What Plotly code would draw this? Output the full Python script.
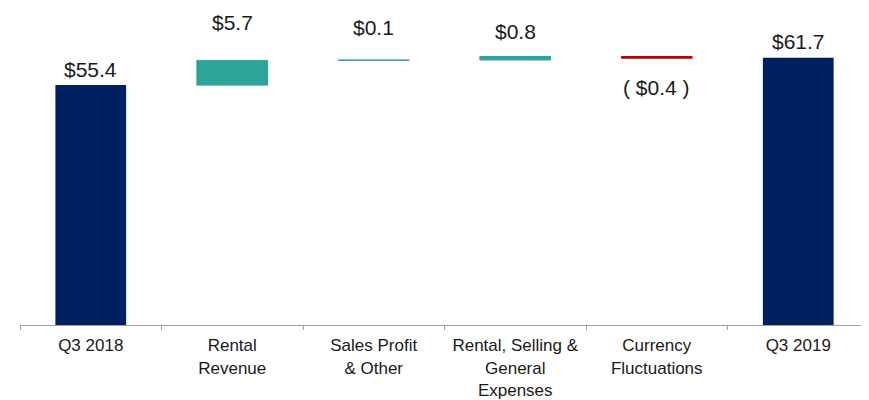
import plotly.graph_objects as go

categories = ["Q3 2018", "Rental<br>Revenue", "Sales Profit<br>& Other",
              "Rental, Selling &<br>General<br>Expenses", "Currency<br>Fluctuations", "Q3 2019"]
values = [55.4, 5.7, 0.1, 0.8, -0.4, 61.7]
kinds = ["total", "delta", "delta", "delta", "delta", "total"]
value_labels = ["$55.4", "$5.7", "$0.1", "$0.8", "( $0.4 )", "$61.7"]

# styling (pixel offsets of value labels from bar edge)
label_shift_px = [16, 38, 32, 25, -29, 16]
NAVY = "#002060"
TEAL = "#2CA497"
RED = "#C00000"

bases, heights, colors, lw = [], [], [], []
running = 0.0
for v, k in zip(values, kinds):
    if k == "total":
        bases.append(0)
        heights.append(v)
        colors.append(NAVY)
        lw.append(0)
        running = v
    else:
        if v >= 0:
            bases.append(running)
            heights.append(v)
            colors.append(TEAL)
        else:
            bases.append(running + v)
            heights.append(-v)
            colors.append(RED)
        lw.append(1)
        running += v

fig = go.Figure()
fig.add_trace(go.Bar(
    x=categories, y=heights, base=bases, width=0.5,
    marker=dict(color=colors, line=dict(color=colors, width=lw)),
    hoverinfo="skip", showlegend=False,
))

for i, (c, v, k, lab, sh) in enumerate(zip(categories, values, kinds, value_labels, label_shift_px)):
    if v >= 0:
        yref_val = bases[i] + heights[i]
    else:
        yref_val = bases[i]
    fig.add_annotation(x=c, y=yref_val, text=lab, showarrow=False,
                       yanchor="middle", xanchor="center", yshift=sh,
                       font=dict(size=21, color="#1a1a1a", family="Liberation Sans, Arial"))

fig.update_layout(
    width=861, height=392,
    margin=dict(l=12, r=0, t=0, b=75),
    plot_bgcolor="white", paper_bgcolor="white",
    font=dict(family="Liberation Sans, Arial", color="#1a1a1a"),
    bargap=0.5,
)
fig.update_xaxes(
    range=[-0.5, 5.5], showline=True, linecolor="#A0A0A0", linewidth=1,
    ticks="outside", tickson="boundaries", ticklen=4, tickcolor="#A0A0A0",
    tickfont=dict(size=17, color="#1a1a1a"), showgrid=False,
    tickangle=0, automargin=False, ticklabelstandoff=5,
)
fig.update_yaxes(range=[0, 73.2], visible=False, showgrid=False, automargin=False)

fig.write_html("out.html")
